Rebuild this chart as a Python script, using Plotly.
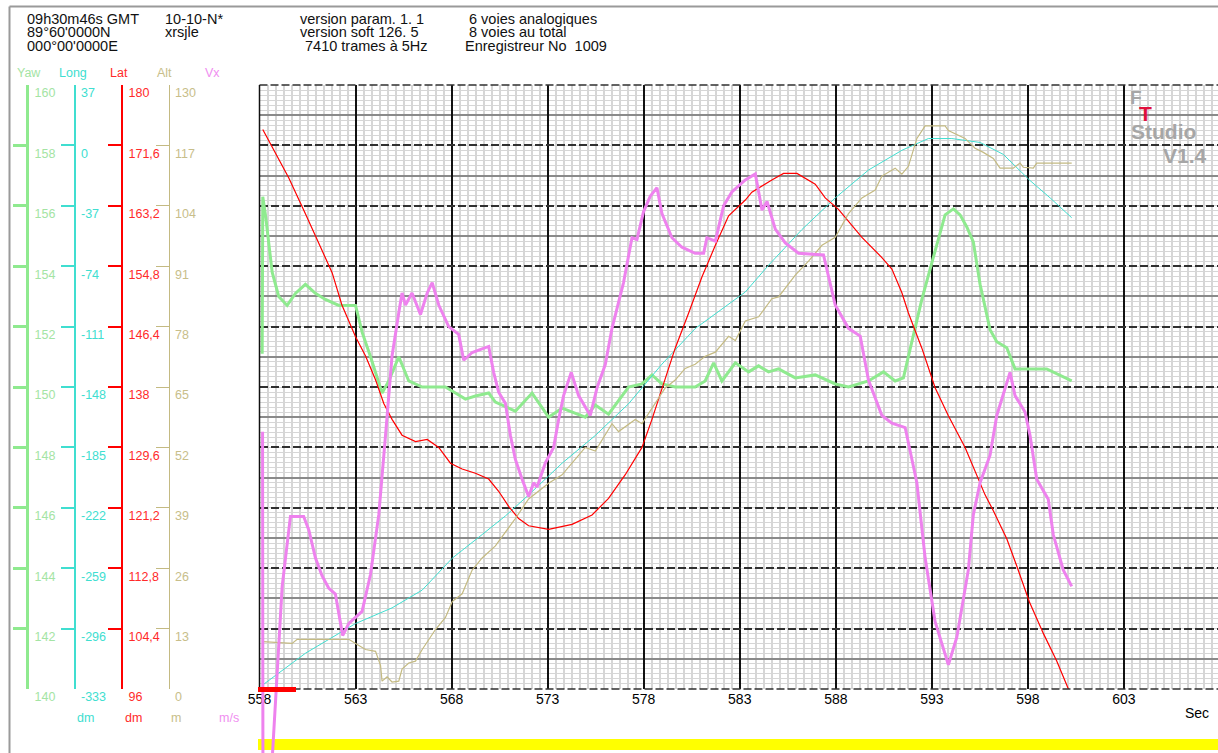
import plotly.graph_objects as go

# ---------------- data ----------------
yaw_t = [558.14, 558.17, 558.31, 558.48, 558.66, 559.00, 559.44, 559.87, 560.39, 560.91, 561.43, 562.13,
         563.00, 563.35, 563.78, 564.38, 564.73, 565.25, 565.77, 566.47, 567.68, 568.20, 568.72, 569.24,
         569.93, 570.28, 571.32, 572.19, 573.05, 573.75, 574.96, 575.48, 576.17, 577.21, 577.91, 578.43,
         578.95, 579.64, 580.68, 581.20, 581.64, 582.07, 582.77, 583.46, 583.98, 584.50, 585.02, 585.89,
         586.93, 587.97, 588.66, 589.70, 590.48, 591.09, 591.52, 591.96, 592.48, 593.08, 593.69, 594.12,
         594.47, 594.82, 595.16, 595.51, 596.03, 596.38, 596.90, 597.33, 597.94, 598.98, 600.28]
yaw = [151.1, 156.3, 155.7, 154.7, 153.8, 153.0, 152.7, 153.1, 153.4, 153.1, 152.9, 152.7,
       152.7, 151.8, 151.0, 149.8, 150.2, 151.0, 150.2, 150.0, 150.0, 149.8, 149.6, 149.7,
       149.8, 149.5, 149.2, 149.8, 149.0, 149.3, 149.0, 149.4, 149.1, 150.0, 150.1, 150.4,
       150.1, 150.0, 150.0, 150.2, 150.8, 150.2, 150.8, 150.5, 150.7, 150.5, 150.6, 150.3,
       150.4, 150.1, 150.0, 150.2, 150.5, 150.2, 150.3, 151.5, 152.9, 154.3, 155.7, 155.9,
       155.7, 155.3, 154.8, 153.4, 151.9, 151.5, 151.3, 150.6, 150.6, 150.6, 150.2]

long_t = [558.17, 560.39, 563.00, 564.90, 566.47, 568.03, 569.59, 570.80, 572.01, 573.75, 575.48, 577.21,
          578.95, 580.68, 583.29, 584.50, 586.24, 587.97, 589.70, 591.44, 592.82, 594.04, 595.51, 596.72,
          598.08, 599.16, 600.28]
long_ = [-330.5, -311.1, -292.9, -283.3, -272.4, -252.9, -238.4, -227.0, -214.1, -194.7, -177.7, -158.3,
         -134.0, -112.2, -89.8, -73.4, -51.5, -32.2, -15.1, -3.0, 4.2, 4.2, 1.8, -5.5,
         -21.2, -32.2, -44.3]

lat_t = [558.17, 558.83, 559.52, 560.39, 561.26, 561.78, 562.29, 563.00, 563.52, 564.04, 564.47, 564.90,
         565.42, 566.12, 566.73, 567.33, 567.94, 568.55, 569.24, 569.93, 570.45, 570.97, 571.49, 572.01,
         573.05, 574.27, 575.31, 576.17, 577.04, 577.91, 578.43, 578.95, 579.64, 580.34, 581.03, 581.73,
         582.42, 583.29, 583.63, 584.67, 585.28, 585.98, 586.93, 587.45, 588.14, 589.36, 590.40, 590.92,
         591.44, 591.78, 592.48, 593.17, 593.86, 594.73, 595.77, 596.20, 596.90, 597.42, 598.08, 598.81,
         599.50, 600.28]
lat = [173.8, 170.6, 167.1, 162.1, 157.1, 153.9, 149.4, 145.0, 142.3, 139.0, 135.7, 133.5,
       131.3, 130.4, 130.7, 129.6, 127.4, 126.6, 126.0, 125.2, 123.5, 121.4, 119.7, 118.7,
       118.2, 118.9, 120.2, 122.5, 125.8, 129.6, 133.5, 137.9, 143.4, 148.3, 153.3, 157.7,
       161.8, 164.0, 165.1, 166.8, 167.7, 167.7, 166.2, 164.3, 162.7, 158.8, 156.0, 154.4,
       151.1, 148.3, 143.4, 137.9, 134.0, 129.6, 123.0, 120.8, 116.9, 113.1, 108.1, 103.7,
       99.9, 94.9]

alt_t = [558.17, 559.70, 559.96, 562.65, 563.00, 563.52, 564.04, 564.30, 564.38, 564.64, 564.90, 565.25,
         565.42, 565.77, 566.12, 566.47, 567.16, 567.68, 568.03, 568.55, 569.07, 569.59, 570.28, 571.32,
         572.01, 573.05, 573.75, 574.96, 575.48, 576.35, 576.69, 577.56, 577.91, 578.60, 579.12, 579.64,
         580.16, 580.68, 581.20, 581.73, 582.42, 582.77, 583.29, 583.98, 584.67, 585.02, 585.89, 586.58,
         587.28, 587.97, 588.66, 589.36, 590.05, 590.40, 591.09, 591.44, 591.78, 592.22, 592.65, 593.69,
         593.86, 594.73, 595.25, 595.68, 596.20, 596.55, 597.24, 597.59, 597.76, 598.28, 598.46, 600.28]
alt = [10.2, 9.8, 10.7, 10.7, 9.8, 8.5, 8.1, 5.1, 1.7, 2.6, 1.5, 1.7,
       4.3, 5.6, 6.0, 8.5, 12.8, 15.4, 18.8, 20.5, 25.6, 28.2, 30.8, 36.7,
       40.9, 44.3, 46.1, 52.0, 51.2, 57.1, 55.4, 58.0, 57.1, 61.4, 64.8, 66.5,
       69.0, 69.9, 71.6, 72.5, 75.9, 75.0, 79.2, 80.1, 84.0, 84.4, 89.1, 92.1,
       95.5, 97.2, 102.3, 105.7, 107.4, 110.4, 112.1, 110.8, 112.5, 118.5, 121.2, 121.2,
       120.2, 118.5, 116.4, 115.5, 114.2, 112.1, 112.1, 113.2, 112.3, 112.1, 113.2, 113.2]

vx_t = [558.16, 558.18, 558.56, 559.18, 559.61, 560.30, 560.57, 560.91, 561.26, 561.60, 561.95, 562.33,
        562.65, 563.34, 563.78, 564.21, 564.56, 564.90, 565.25, 565.42, 565.60, 565.94, 566.38, 566.73,
        566.99, 567.33, 567.85, 568.37, 568.63, 569.07, 569.93, 570.19, 570.45, 570.80, 571.06, 571.32,
        571.67, 572.01, 572.27, 572.45, 572.88, 573.31, 573.57, 573.83, 574.23, 574.61, 575.22, 575.57,
        576.00, 576.35, 576.95, 577.39, 577.65, 577.99, 578.34, 578.69, 578.95, 579.47, 579.99, 580.68,
        581.12, 581.29, 581.73, 582.16, 582.59, 583.29, 583.81, 584.16, 584.42, 584.85, 585.37, 586.06,
        587.36, 587.97, 588.66, 589.27, 589.70, 590.40, 590.92, 591.61, 592.22, 592.65, 593.17, 593.86,
        594.30, 594.90, 595.16, 595.51, 596.03, 596.38, 597.07, 597.33, 597.85, 598.11, 598.46, 599.06,
        599.32, 599.84, 600.28]
vx = [10.98, 6.8, 6.8, 9.19, 10.00, 10.00, 9.84, 9.52, 9.31, 9.17, 9.10, 8.62,
      8.76, 8.90, 9.33, 10.02, 10.94, 11.86, 12.36, 12.59, 12.45, 12.59, 12.34, 12.59,
      12.71, 12.45, 12.20, 12.11, 11.81, 11.90, 11.97, 11.67, 11.44, 11.31, 10.94, 10.66,
      10.43, 10.23, 10.39, 10.34, 10.62, 10.80, 11.12, 11.40, 11.67, 11.40, 11.17, 11.49,
      11.76, 12.18, 12.71, 13.23, 13.21, 13.53, 13.71, 13.81, 13.51, 13.23, 13.12, 13.05,
      13.05, 13.23, 13.19, 13.60, 13.76, 13.90, 13.97, 13.55, 13.65, 13.33, 13.17, 13.05,
      13.03, 12.45, 12.18, 12.09, 11.58, 11.17, 11.08, 11.03, 10.39, 9.52, 8.78, 8.28,
      8.60, 9.38, 10.02, 10.39, 10.71, 11.17, 11.67, 11.40, 11.21, 10.94, 10.43, 10.20,
      9.79, 9.38, 9.19]

# scales and tick labels
yaw_range, long_range, lat_range, alt_range, vx_range = [140, 160], [-333, 37], [96, 180], [0, 130], [8, 15]
yaw_ticks = [140, 142, 144, 146, 148, 150, 152, 154, 156, 158, 160]
long_ticks = [-333, -296, -259, -222, -185, -148, -111, -74, -37, 0, 37]
long_labels = ["-333", "-296", "-259", "-222", "-185", "-148", "-111", "-74", "-37", "0", "37"]
long_mid = [-314.5, -277.5, -240.5, -203.5, -166.5, -129.5, -92.5, -55.5, -18.5, 18.5]
lat_ticks = [96, 104.4, 112.8, 121.2, 129.6, 138, 146.4, 154.8, 163.2, 171.6, 180]
lat_labels = ["96", "104,4", "112,8", "121,2", "129,6", "138", "146,4", "154,8", "163,2", "171,6", "180"]
alt_ticks = [0, 13, 26, 39, 52, 65, 78, 91, 104, 117, 130]
vx_ticks = [8, 8.7, 9.4, 10.1, 10.8, 11.5, 12.2, 12.9, 13.6, 14.3, 15]
vx_labels = ["8", "8,7", "9,4", "10,1", "10,8", "11,5", "12,2", "12,9", "13,6", "14,3", "15"]

header_lines = [
    ("09h30m46s GMT", 25, 19), ("89°60'0000N", 25, 32.5), ("000°00'0000E", 25, 46),
    ("10-10-N*", 163, 19), ("xrsjle", 163, 32.5),
    ("version param. 1. 1", 298, 19), ("version soft 126. 5", 298, 32.5), ("7410 trames à 5Hz", 303, 46),
    ("6 voies analogiques", 467, 19), ("8 voies au total", 467, 32.5), ("Enregistreur No  1009", 463, 46),
]

# ---------------- geometry ----------------
W, H = 1218, 753
FONT = "Liberation Sans, Arial, sans-serif"
def fx(p): return p / W
def fy(p): return 1 - p / H

PL, PR, PT, PB = 259.5, 1218, 85, 689
PX_PER_SEC = 19.21
x_range = [558, 558 + (PR - PL) / PX_PER_SEC]
ydom = [fy(PB), fy(PT)]
xdom = [fx(PL), 1]
# full-height axis carrying Vx (its line runs below the grid, as in the reference)
vx_per_px = (vx_range[1] - vx_range[0]) / (PB - PT)
vx_full_range = [vx_range[0] - (H - PB) * vx_per_px, vx_range[1] + PT * vx_per_px]

C_YAW, C_LONG, C_LAT, C_ALT, C_VX = "#8fea8f", "#40ded0", "#ff0000", "#c4ba82", "#ee82ee"
L_YAW, L_LAT, L_ALT, L_VX = "#a4e4a4", "#ff2a2a", "#c8be8a", "#f08ef0"
GRID_DASH = "8px,3px"
MESH = "#d6d6d6"

fig = go.Figure()
fig.add_trace(go.Scatter(x=long_t, y=long_, yaxis="y2", mode="lines", line=dict(color=C_LONG, width=1)))
fig.add_trace(go.Scatter(x=alt_t, y=alt, yaxis="y4", mode="lines", line=dict(color=C_ALT, width=1.2)))
fig.add_trace(go.Scatter(x=lat_t, y=lat, yaxis="y3", mode="lines", line=dict(color=C_LAT, width=1.2)))
fig.add_trace(go.Scatter(x=yaw_t, y=yaw, yaxis="y", mode="lines", line=dict(color=C_YAW, width=3)))
fig.add_trace(go.Scatter(x=vx_t, y=vx, xaxis="x2", yaxis="y7", mode="lines", line=dict(color=C_VX, width=3)))


def scale_axis(rng, pos_px, color, lblcolor, tickvals, ticktext=None, width=3, overlay=True):
    d = dict(range=rng, domain=ydom, anchor="free", position=fx(pos_px), side="right",
             ticks="inside", ticklen=13, tickwidth=width, tickcolor=color, showgrid=False,
             showline=True, linewidth=width, linecolor=color, zeroline=False, automargin=False,
             tickvals=tickvals, ticklabelshift=8, ticklabelstandoff=3,
             tickfont=dict(family=FONT, size=12.5, color=lblcolor), fixedrange=True)
    if ticktext is not None:
        d["ticktext"] = ticktext
    if overlay:
        d["overlaying"] = "y"
    return d


# Yaw axis carries the dashed main levels and the fine mesh
yaxis = scale_axis(yaw_range, 27, C_YAW, L_YAW, yaw_ticks, overlay=False)
yaxis.update(showgrid=True, gridcolor="#303030", gridwidth=1.5, griddash=GRID_DASH,
             minor=dict(tickmode="linear", tick0=140, dtick=2 / 12, showgrid=True, gridcolor=MESH,
                        gridwidth=1.3, griddash="solid", ticks=""))
# Long axis carries the mid-level grey lines
yaxis2 = scale_axis(long_range, 74.5, C_LONG, C_LONG, long_ticks, long_labels, width=2)
yaxis2.update(minor=dict(tickmode="array", tickvals=long_mid, showgrid=True, gridcolor="#8a8a8a",
                         gridwidth=1.5, griddash="solid", ticks=""))

fig.update_layout(
    template="none",
    width=W, height=H, margin=dict(l=0, r=0, t=0, b=0, autoexpand=False),
    paper_bgcolor="white", plot_bgcolor="rgba(0,0,0,0)", showlegend=False, hovermode=False,
    font=dict(family=FONT, size=13, color="black"),
    xaxis=dict(domain=xdom, range=x_range, tick0=558, dtick=5, showgrid=True, automargin=False,
               gridcolor="#111111", gridwidth=1.5, zeroline=False, showline=False, ticks="",
               tickfont=dict(family=FONT, size=14, color="black"), fixedrange=True,
               minor=dict(dtick=5 / 12, tick0=558, showgrid=True, gridcolor=MESH, gridwidth=1.5,
                          griddash="solid", ticks="")),
    xaxis2=dict(domain=xdom, matches="x", anchor="y7", visible=False, showgrid=False, automargin=False),
    yaxis=yaxis,
    yaxis2=yaxis2,
    yaxis3=scale_axis(lat_range, 122, C_LAT, L_LAT, lat_ticks, lat_labels, width=2),
    yaxis4=scale_axis(alt_range, 168.5, C_ALT, L_ALT, alt_ticks, width=1),
    yaxis5=scale_axis(vx_range, 216, C_VX, L_VX, vx_ticks, vx_labels, width=3),
    yaxis7=dict(range=vx_full_range, domain=[0, 1], anchor="x2", visible=False, showgrid=False,
                zeroline=False, automargin=False, fixedrange=True),
)

shapes = [
    # window frame
    dict(type="line", xref="paper", yref="paper", x0=fx(9.5), x1=1, y0=fy(6.5), y1=fy(6.5),
         line=dict(color="#9a9a9a", width=2)),
    dict(type="line", xref="paper", yref="paper", x0=fx(9.5), x1=fx(9.5), y0=fy(6.5), y1=0,
         line=dict(color="#9a9a9a", width=2)),
    # plot border (top/bottom dashed like the grid, left solid)
    dict(type="line", xref="paper", yref="paper", x0=xdom[0], x1=1, y0=ydom[1], y1=ydom[1],
         line=dict(color="#303030", width=1.5, dash=GRID_DASH)),
    dict(type="line", xref="paper", yref="paper", x0=xdom[0], x1=1, y0=ydom[0], y1=ydom[0],
         line=dict(color="#303030", width=1.5, dash=GRID_DASH)),
    dict(type="line", xref="paper", yref="paper", x0=xdom[0], x1=xdom[0], y0=ydom[0], y1=ydom[1],
         line=dict(color="#111111", width=1.5)),
    # bars
    dict(type="rect", xref="paper", yref="paper", x0=fx(258), x1=1, y0=fy(750), y1=fy(739),
         line=dict(width=0), fillcolor="#ffff00", layer="below"),
    dict(type="rect", xref="paper", yref="paper", x0=fx(258), x1=fx(296), y0=fy(692), y1=fy(687),
         line=dict(width=0), fillcolor="#ff0000"),
]
fig.update_layout(shapes=shapes)

ann = []
for txt, x, y in header_lines:
    ann.append(dict(text=txt, x=fx(x), y=fy(y), xref="paper", yref="paper", xanchor="left",
                    yanchor="middle", showarrow=False, font=dict(family=FONT, size=14.5, color="#111111")))

for txt, x, col in [("Yaw", 28.5, L_YAW), ("Long", 72.5, C_LONG), ("Lat", 119, L_LAT),
                    ("Alt", 164.5, L_ALT), ("Vx", 212, L_VX)]:
    ann.append(dict(text=txt, x=fx(x), y=fy(72.5), xref="paper", yref="paper", xanchor="center",
                    yanchor="middle", showarrow=False, font=dict(family=FONT, size=12.5, color=col)))
for txt, x, col in [("dm", 85, C_LONG), ("dm", 133, L_LAT), ("m", 176, L_ALT), ("m/s", 229, L_VX)]:
    ann.append(dict(text=txt, x=fx(x), y=fy(718), xref="paper", yref="paper", xanchor="center",
                    yanchor="middle", showarrow=False, font=dict(family=FONT, size=12.5, color=col)))

ann.append(dict(text="Sec", x=fx(1183), y=fy(713), xref="paper", yref="paper", xanchor="left",
                yanchor="middle", showarrow=False, font=dict(family=FONT, size=14, color="black")))

# logo
ann.append(dict(text="<b>F</b>", x=fx(1128), y=fy(97), xref="paper", yref="paper", xanchor="left",
                yanchor="middle", showarrow=False, font=dict(family=FONT, size=19, color="#a6a6a6")))
ann.append(dict(text="<b>T</b>", x=fx(1137), y=fy(114), xref="paper", yref="paper", xanchor="left",
                yanchor="middle", showarrow=False, font=dict(family=FONT, size=21, color="#e0103c")))
ann.append(dict(text="<b>Studio</b>", x=fx(1129), y=fy(131), xref="paper", yref="paper", xanchor="left",
                yanchor="middle", showarrow=False, font=dict(family=FONT, size=21, color="#a6a6a6")))
ann.append(dict(text="<b>V1.4</b>", x=fx(1161), y=fy(155), xref="paper", yref="paper", xanchor="left",
                yanchor="middle", showarrow=False, font=dict(family=FONT, size=21, color="#a6a6a6")))

fig.update_layout(annotations=ann)

fig.write_html("out.html", config={"displayModeBar": False},
               post_script="document.body.style.margin='0px';document.body.style.overflow='hidden';")
